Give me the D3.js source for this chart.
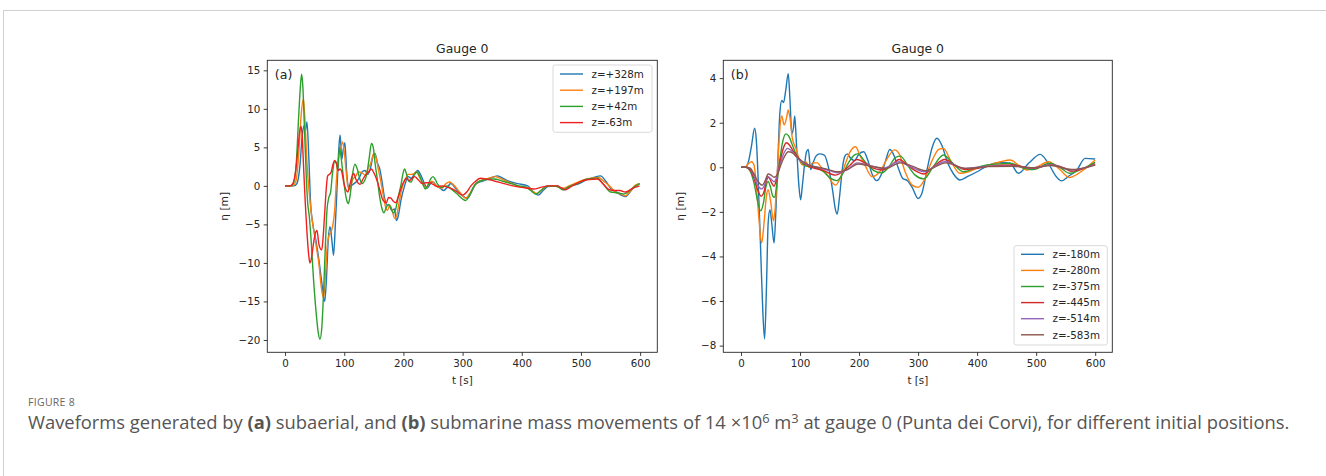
<!DOCTYPE html>
<html><head><meta charset="utf-8">
<script src="https://cdn.jsdelivr.net/npm/d3@7"></script>
<style>
html,body{margin:0;padding:0;background:#fff;}
svg{display:block;}
text{font-family:"DejaVu Sans",sans-serif;}
</style></head>
<body><svg id="chart" width="1326" height="476"></svg>
<script>
// ---------------- DATA ----------------
const xTicks = [0,100,200,300,400,500,600];
const yTicksA = [-20,-15,-10,-5,0,5,10,15];
const yTicksB = [-8,-6,-4,-2,0,2,4];
const labelsA = ["z=+328m","z=+197m","z=+42m","z=-63m"];
const labelsB = ["z=-180m","z=-280m","z=-375m","z=-445m","z=-514m","z=-583m"];
const colorsA = ["#1f77b4","#ff7f0e","#2ca02c","#f02020"];
const colorsB = ["#1f77b4","#ff7f0e","#2ca02c","#d62728","#9467bd","#8c564b"];

// panel (a): [t (s), eta (m)]
const a_p328 = [[0,0],[15,0],[20,0.3],[25,2.5],[29,6.5],[32,7.8],[34,7],[37,8.3],[40,4],[43,-2],[47,-5],[52,-7],[57,-9.5],[62,-12.5],[67,-15],[70,-12],[73,-7],[76,-5.3],[79,-7],[82,-9],[85,-5],[88,0],[91,5],[93,6.6],[96,3.5],[98,4.5],[101,5.6],[104,2],[107,-0.2],[111,0],[115,0.2],[120,0.5],[125,1.0],[130,1.8],[135,2.0],[140,1.5],[145,2.5],[149,4.0],[152,4.2],[156,3.0],[160,2.2],[164,0.5],[168,-1.5],[172,-2.5],[176,-2.5],[180,-3.2],[185,-3.0],[188,-4.5],[191,-4.0],[196,-1.8],[202,0],[208,1.2],[213,1.0],[218,1.5],[224,2.0],[230,1.3],[236,0.2],[240,-0.3],[246,0.3],[250,0.5],[256,0],[262,-0.3],[268,-0.6],[274,-0.2],[280,0.3],[290,-0.5],[300,-1.3],[308,-1.6],[315,-0.8],[322,0.2],[336,0.7],[350,1.1],[359,1.3],[370,0.9],[382,0.5],[393,0.3],[410,0],[420,-0.8],[428,-1.2],[436,-0.6],[444,-0.1],[460,0],[466,-0.3],[472,-0.5],[480,-0.1],[497,0.3],[510,0.8],[522,1.1],[533,1.3],[542,0.6],[550,-0.3],[560,-0.8],[568,-1.2],[575,-1.4],[583,-0.8],[592,0],[599,0.3]];
const a_p197 = [[0,0],[12,0],[18,0.5],[23,4],[27,9],[31,11.3],[34,8],[37,3],[41,-1],[45,-4],[49,-6],[53,-8],[57,-10],[61,-13],[65,-14.6],[68,-12],[71,-8],[74,-6.5],[78,-5.9],[81,-5],[84,-3],[87,1],[90,3.5],[94,4.8],[97,5.7],[100,4.5],[103,2],[106,0],[110,-0.5],[114,0.8],[119,1.2],[124,1.8],[130,1.7],[135,1.4],[140,2.2],[145,3.0],[150,4.2],[154,3.6],[158,2.0],[162,0.5],[166,-1.2],[170,-2.8],[173,-3.2],[177,-2.5],[181,-3.2],[185,-4.2],[188,-4.0],[193,-2.0],[198,-0.2],[203,0.8],[208,1.5],[213,1.5],[218,1.6],[222,1.8],[228,1.0],[234,0.2],[238,-0.3],[244,0.4],[248,0.6],[254,0.1],[260,-0.2],[265,-0.3],[272,0.3],[278,0.5],[284,0.2],[295,-0.8],[305,-1.6],[312,-1.0],[320,0],[328,0.6],[340,0.9],[355,1.2],[368,0.8],[385,0.3],[400,-0.2],[410,-0.2],[418,-0.7],[426,-1.0],[434,-0.5],[444,0],[456,0],[462,-0.2],[470,-0.3],[480,0],[495,0.5],[510,0.9],[530,1.1],[540,0.5],[548,0],[558,-0.8],[566,-1.0],[575,-1.3],[583,-0.7],[592,0.1],[599,0.3]];
const a_p42 = [[0,0],[10,0],[15,0.5],[19,3],[23,9],[26,13],[28,14.5],[30,13],[33,7],[36,1],[38,-2],[41,-4],[44,-7],[48,-12],[52,-16],[56,-19],[59,-19.9],[62,-18.5],[65,-14],[68,-8],[71,-3],[74,-1.5],[77,-0.8],[80,1.5],[84,3.2],[87,3.0],[89,2.0],[92,5.0],[95,3.5],[98,1.5],[101,-0.5],[104,-1.8],[107,-2.3],[110,-1.2],[114,1.5],[118,2.8],[122,2.2],[126,1.0],[130,0.3],[134,0.6],[138,1.5],[142,3.5],[146,5.5],[149,5],[152,3.0],[156,0.8],[160,-1.5],[164,-3.0],[167,-3.5],[171,-2.8],[175,-2.4],[179,-2.9],[183,-3.5],[187,-3.0],[191,-1.5],[196,0.2],[199,1.5],[202,2.2],[205,1.6],[209,0.6],[213,0.5],[218,1.4],[223,1.8],[228,1.2],[233,0.2],[237,-0.4],[242,0.2],[246,0.9],[250,1.2],[254,0.8],[258,0.2],[263,-0.2],[268,-0.1],[274,0],[280,-0.35],[290,-1.0],[300,-1.7],[305,-1.9],[312,-1.2],[318,-0.2],[325,0.5],[338,0.8],[353,0.9],[368,0.6],[382,0.3],[395,0],[405,-0.1],[415,-0.6],[424,-1.05],[432,-0.6],[444,0],[461,-0.1],[469,-0.5],[480,-0.1],[494,0.3],[511,0.9],[528,1.0],[538,0.2],[550,-0.8],[562,-0.9],[573,-1.05],[586,-0.35],[599,0.3]];
const a_m63 = [[0,0],[8,0],[13,0.3],[18,2],[22,5],[25,7.2],[27,7.7],[29,6.5],[31,3],[34,-2],[37,-6],[40,-9],[42,-10],[45,-9.2],[48,-7.5],[51,-6.2],[54,-5.8],[57,-7.5],[60,-8.2],[62,-8.3],[64,-7],[67,-3.5],[70,0],[72,1.3],[75,1.5],[78,1.8],[81,2.8],[84,3.3],[87,2.8],[90,2.0],[93,2.2],[96,1.8],[99,0.5],[103,-0.5],[106,-0.8],[109,0],[113,1.2],[116,1.6],[119,1.0],[123,0.4],[127,0.2],[131,0.8],[136,1.4],[141,1.8],[146,2.2],[150,1.7],[155,0.8],[160,-0.5],[164,-1.6],[168,-2.1],[171,-2.2],[175,-1.5],[179,-1.6],[183,-2.0],[187,-2.2],[191,-1.5],[196,-0.3],[201,0.6],[205,1.0],[210,0.7],[215,1.0],[219,1.2],[225,0.8],[232,0.3],[238,0.4],[244,0.4],[250,0.2],[258,-0.1],[266,0],[275,-0.2],[285,-0.5],[293,-0.9],[300,-1.2],[307,-0.8],[314,0],[322,0.6],[330,1.0],[340,0.9],[355,0.6],[370,0.3],[385,0],[400,-0.2],[410,-0.3],[420,-0.4],[432,-0.2],[445,0],[460,0],[468,-0.3],[474,-0.5],[485,0],[495,0.4],[510,0.8],[528,0.9],[538,0.2],[548,-0.5],[557,-0.6],[566,-0.6],[575,-0.8],[588,-0.3],[599,0]];

// panel (b)
const b_m180 = [[0,0],[8,0],[13,0.3],[18,1.0],[23,1.75],[26,1.2],[29,-0.5],[33,-3.5],[37,-6.5],[40,-7.7],[43,-5.5],[46,-2.5],[49,-1.9],[52,-2.5],[56,-3.4],[59,-2],[62,0],[66,2.5],[69,3.0],[72,2.9],[76,3.5],[80,4.2],[83,3.0],[86,1.5],[89,1.8],[91,2.3],[94,1.0],[98,-0.8],[101,-1.46],[104,-0.8],[108,0.2],[111,0.7],[114,0.8],[118,-0.1],[122,0.2],[127,0.5],[133,0.6],[141,0.55],[149,-0.1],[155,-1.0],[160,-1.9],[163,-2.1],[167,-1.3],[172,0],[176,0.5],[180,0.6],[186,0.4],[192,0.3],[200,0.6],[208,0.7],[215,0.3],[222,-0.3],[230,-0.6],[238,-0.3],[245,0.3],[252,0.8],[258,0.6],[266,0],[274,-0.5],[282,-0.6],[290,-0.9],[300,-1.4],[306,-1.2],[316,0],[324,0.9],[332,1.3],[340,1.0],[350,0.2],[360,-0.3],[371,-0.57],[385,-0.4],[400,-0.2],[420,0.1],[439,0.22],[456,0.18],[470,-0.27],[488,0.2],[507,0.58],[520,0.2],[535,-0.45],[543,-0.61],[555,-0.4],[569,-0.12],[583,0.4],[600,0.37]];
const b_m280 = [[0,0],[6,0],[12,0.15],[18,0.25],[22,0.1],[26,-0.8],[30,-2.2],[35,-3.4],[39,-2.5],[43,-1.3],[46,-1.0],[50,-1.5],[55,-2.4],[58,-1.8],[62,0],[66,1.8],[69,2.3],[73,1.9],[77,2.2],[80,2.57],[83,2.2],[87,1.3],[93,0.85],[98,0.4],[104,0.1],[110,0.25],[115,0],[121,0.2],[129,0.2],[138,-0.1],[148,-0.4],[155,-0.7],[160,-0.8],[168,-0.5],[176,0.1],[185,0.7],[194,0.92],[202,0.5],[210,0.1],[222,-0.42],[235,-0.2],[248,0.4],[260,0.78],[268,0.6],[278,-0.2],[290,-0.8],[300,-0.9],[310,-0.6],[322,0.2],[335,0.8],[343,0.85],[355,0.3],[371,-0.27],[385,-0.2],[400,-0.04],[420,0.1],[440,0.25],[456,0.33],[470,0.1],[484,-0.12],[500,0],[521,0.25],[540,-0.1],[557,-0.46],[570,-0.3],[580,-0.12],[600,0.33]];
const b_m375 = [[0,0],[8,0],[15,-0.15],[22,-0.7],[28,-1.5],[33,-1.95],[38,-1.6],[42,-0.9],[46,-0.64],[50,-0.9],[54,-1.3],[57,-1.35],[61,-0.7],[66,0.4],[71,1.2],[76,1.5],[81,1.4],[87,1.0],[93,0.6],[100,0.3],[110,0.05],[125,0],[140,-0.2],[152,-0.5],[162,-0.6],[172,-0.3],[182,0.2],[192,0.55],[198,0.6],[210,0.25],[225,-0.15],[238,-0.25],[250,0],[262,0.45],[270,0.5],[282,0.1],[295,-0.35],[310,-0.52],[325,0],[343,0.55],[358,0.2],[377,-0.2],[395,-0.05],[416,0.1],[435,0.15],[456,0.18],[475,0],[495,-0.1],[523,0.18],[540,0],[557,-0.27],[574,-0.12],[600,0.22]];
const b_m445 = [[0,0],[8,0],[15,-0.1],[22,-0.5],[28,-1.0],[34,-1.3],[39,-1.1],[43,-0.6],[47,-0.45],[51,-0.65],[56,-0.85],[60,-0.55],[65,0.1],[71,0.8],[77,1.1],[82,1.0],[88,0.75],[95,0.5],[105,0.2],[120,0],[140,-0.15],[160,-0.35],[172,-0.2],[185,0.1],[196,0.35],[210,0.2],[225,-0.05],[240,-0.12],[255,0.1],[268,0.35],[280,0.15],[295,-0.15],[310,-0.3],[325,0],[345,0.35],[362,0.1],[380,-0.1],[400,-0.05],[420,0.05],[460,0.1],[495,-0.05],[525,0.12],[545,0],[560,-0.18],[575,-0.1],[600,0.15]];
const b_m514 = [[0,0],[8,0],[15,-0.05],[22,-0.4],[28,-0.8],[35,-0.97],[40,-0.8],[45,-0.4],[50,-0.5],[56,-0.65],[61,-0.4],[67,0.2],[73,0.65],[79,0.85],[85,0.75],[92,0.55],[100,0.3],[115,0.1],[130,0],[150,-0.15],[165,-0.25],[180,-0.1],[197,0.2],[215,0.1],[240,-0.05],[268,0.25],[285,0.05],[310,-0.2],[345,0.25],[380,-0.05],[420,0.05],[460,0.05],[495,-0.03],[525,0.1],[560,-0.12],[600,0.12]];
const b_m583 = [[0,0],[8,0],[15,-0.03],[22,-0.3],[29,-0.65],[36,-0.8],[41,-0.6],[46,-0.3],[51,-0.35],[56,-0.45],[62,-0.3],[68,0.15],[74,0.5],[80,0.7],[87,0.65],[95,0.45],[105,0.25],[120,0.05],[140,-0.05],[165,-0.2],[182,-0.08],[198,0.15],[220,0.05],[245,-0.05],[270,0.2],[290,0.05],[312,-0.15],[347,0.2],[380,-0.05],[420,0.03],[460,0.05],[495,-0.02],[525,0.08],[560,-0.1],[600,0.1]];

const seriesA = [a_p328, a_p197, a_p42, a_m63];
const seriesB = [b_m180, b_m280, b_m375, b_m445, b_m514, b_m583];

// ---------------- DRAWING ----------------
const svg = d3.select("#chart");
const INK = "#262626";
const fmt = d => d < 0 ? "\u2212" + Math.abs(d) : String(d);

// outer card border (top and left edges)
svg.append("line").attr("x1",3).attr("x2",1326).attr("y1",10.5).attr("y2",10.5).attr("stroke","#d0d0d0").attr("stroke-width",1);
svg.append("line").attr("x1",3.5).attr("x2",3.5).attr("y1",10).attr("y2",476).attr("stroke","#d0d0d0").attr("stroke-width",1);

function panel(opts){
  const {x0,x1,y0,y1,yDomain,yTicks,series,colors,labels,tag,legend} = opts;
  const x = d3.scaleLinear().domain([-30,629]).range([x0,x1]);
  const y = d3.scaleLinear().domain(yDomain).range([y1,y0]);
  const g = svg.append("g");
  const clipId = "clip"+tag;
  g.append("clipPath").attr("id",clipId).append("rect").attr("x",x0).attr("y",y0).attr("width",x1-x0).attr("height",y1-y0);
  const line = d3.line().x(d=>x(d[0])).y(d=>y(d[1])).curve(d3.curveMonotoneX);
  const lg = g.append("g").attr("clip-path",`url(#${clipId})`);
  series.forEach((s,i)=>{
    lg.append("path").attr("d",line(s)).attr("fill","none").attr("stroke",colors[i]).attr("stroke-width",1.4).attr("stroke-linejoin","round");
  });
  // axes
  const xa = g.append("g").attr("transform",`translate(0,${y1})`)
     .call(d3.axisBottom(x).tickValues(xTicks).tickFormat(fmt).tickSize(3.6).tickPadding(3.4));
  const ya = g.append("g").attr("transform",`translate(${x0},0)`)
     .call(d3.axisLeft(y).tickValues(yTicks).tickFormat(fmt).tickSize(3.6).tickPadding(3.4));
  [xa,ya].forEach(a=>{
    a.select(".domain").remove();
    a.selectAll("line").attr("stroke",INK).attr("stroke-width",0.9);
    a.selectAll("text").attr("fill",INK).style("font-size","10.3px").style("font-family","DejaVu Sans");
  });
  // frame
  g.append("rect").attr("x",x0).attr("y",y0).attr("width",x1-x0).attr("height",y1-y0)
    .attr("fill","none").attr("stroke",INK).attr("stroke-width",0.9);
  // title, labels
  g.append("text").attr("x",(x0+x1)/2).attr("y",53).attr("text-anchor","middle")
    .style("font-size","12.4px").attr("fill",INK).text("Gauge 0");
  g.append("text").attr("x",(x0+x1)/2).attr("y",383.5).attr("text-anchor","middle")
    .style("font-size","10.3px").attr("fill",INK).text("t [s]");
  g.append("text").attr("transform",`translate(${x0-43},${(y0+y1)/2}) rotate(-90)`).attr("text-anchor","middle")
    .attr("dy","0.35em").style("font-size","10.6px").attr("fill",INK).text("\u03b7 [m]");
  g.append("text").attr("x",x0+7.5).attr("y",79).style("font-size","12.6px").attr("fill",INK).text(`(${tag})`);
  // legend
  const L = legend;
  g.append("rect").attr("x",L.x).attr("y",L.y).attr("width",L.w).attr("height",L.h).attr("rx",2.5)
    .attr("fill","#fff").attr("fill-opacity",0.8).attr("stroke","#d9d9d9").attr("stroke-width",1);
  labels.forEach((lab,i)=>{
    const yy = L.y + L.first + i*L.step;
    g.append("line").attr("x1",L.x+7).attr("x2",L.x+30).attr("y1",yy).attr("y2",yy).attr("stroke",colors[i]).attr("stroke-width",1.4);
    g.append("text").attr("x",L.x+38.5).attr("y",yy).attr("dy","0.36em").style("font-size","10.3px").attr("fill",INK).text(lab);
  });
}

panel({x0:267.3,x1:657.3,y0:60.3,y1:352.3,yDomain:[-21.6,16.3],yTicks:yTicksA,series:seriesA,colors:colorsA,labels:labelsA,tag:"a",
       legend:{x:553,y:65,w:99,h:67.3,first:9,step:16.2}});
panel({x0:723.3,x1:1112.3,y0:60.3,y1:352.3,yDomain:[-8.3,4.8],yTicks:yTicksB,series:seriesB,colors:colorsB,labels:labelsB,tag:"b",
       legend:{x:1014,y:245.7,w:93.3,h:99.3,first:8.6,step:16.1}});

// caption
const CAPF = "'Open Sans','Noto Sans',sans-serif";
svg.append("text").attr("x",28).attr("y",406).style("font-family",CAPF).style("font-size","10.5px")
  .style("letter-spacing","0.3px").attr("fill","#666").text("FIGURE 8");
const cap = svg.append("text").attr("x",28).attr("y",429).style("font-family",CAPF).style("font-size","14.5px").attr("fill","#555");
const parts = [
  ["Waveforms generated by ",false],["(a)",true],[" subaerial, and ",false],["(b)",true],
  [" submarine mass movements of 14 \u00d710",false],["6",false,"sup"],[" m",false],["3",false,"sup"],
  [" at gauge 0 (Punta dei Corvi), for different initial positions.",false]
];
parts.forEach((p,i)=>{
  const t = cap.append("tspan").text(p[0]);
  if(p[1]) t.style("font-weight","bold");
  if(p[2]==="sup") t.attr("dy","-6");
  else if(i>0 && parts[i-1][2]==="sup") t.attr("dy","6");
});
// fit caption width to the reference span
const want = 1297-28;
const have = cap.node().getComputedTextLength();
const fs = 14.5*want/have;
cap.style("font-size",fs.toFixed(2)+"px");
cap.selectAll("tspan").filter((d,i)=>parts[i][2]==="sup").style("font-size",(fs*0.7).toFixed(2)+"px");
</script>
</body></html>
